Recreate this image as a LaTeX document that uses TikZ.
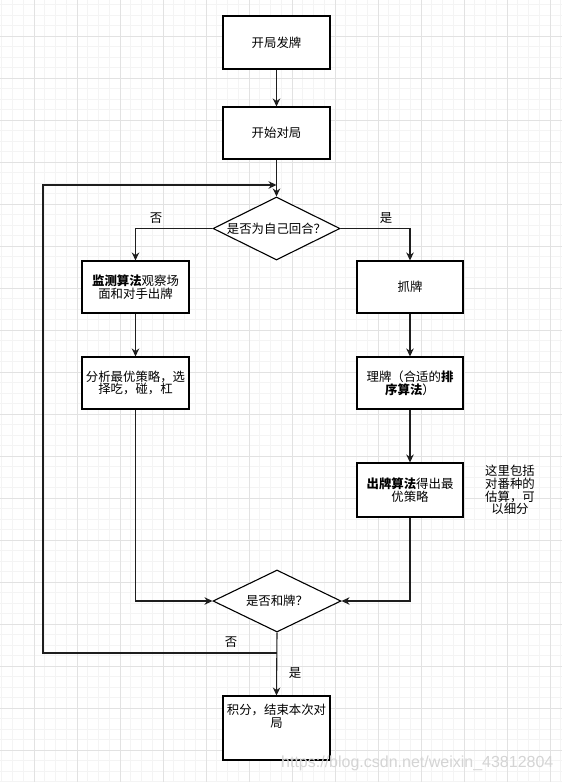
\documentclass[tikz,border=0pt]{standalone}
\usepackage{fontspec}
\setmainfont{Noto Sans CJK SC}
\newfontfamily\urlfont{Liberation Sans}
\usetikzlibrary{shapes.geometric, arrows.meta, positioning}
\definecolor{gridminor}{RGB}{244,244,244}
\definecolor{gridmajor}{RGB}{226,226,226}
\definecolor{flowline}{RGB}{30,30,30}
\definecolor{markgray}{RGB}{212,212,212}

\begin{document}
\begin{tikzpicture}[x=1pt, y=-1pt,
    stepbox/.style={rectangle, draw=black, line width=1.1pt, fill=white, minimum width=107pt, minimum height=52pt, inner sep=1pt, align=center, font=\fontsize{12.4}{12.8}\selectfont},
    decision/.style={diamond, aspect=2, draw=black, line width=1.1pt, fill=white, minimum width=127pt, minimum height=63pt, inner sep=0pt, align=center, font=\fontsize{12.4}{12.8}\selectfont},
    flow/.style={-{Stealth[length=8pt, width=7.5pt]}, line width=1.1pt, flowline},
    lbl/.style={inner sep=0pt, font=\fontsize{12.4}{12.8}\selectfont}]
    \useasboundingbox (0,0) rectangle (562,782);
    \fill[white] (0,0) rectangle (562,782);
    % grid
    \foreach \gx in {1.75,12.5,...,562} \draw[gridminor, line width=0.8pt] (\gx,0) -- (\gx,782);
    \foreach \gy in {4.5,15,...,782} \draw[gridminor, line width=0.8pt] (0,\gy) -- (562,\gy);
    \foreach \gx in {34,77,...,562} \draw[gridmajor, line width=0.8pt] (\gx,0) -- (\gx,782);
    \foreach \gy in {36,78,...,782} \draw[gridmajor, line width=0.8pt] (0,\gy) -- (562,\gy);

    \node[stepbox, minimum height=53pt] (deal) at (276.5,42.5) {开局发牌};
    \node[stepbox] (start) at (276.5,133) {开始对局};
    \node[decision] (turn) at (276.5,228.5) {是否为自己回合？};
    \node[stepbox] (watch) at (135.5,287) {\textbf{监测算法}观察场\\面和对手出牌};
    \node[stepbox] (choose) at (135.5,383) {分析最优策略，选\\择吃，碰，杠};
    \node[stepbox, minimum width=106pt] (draw) at (410,287) {抓牌};
    \node[stepbox, minimum width=106pt] (sort) at (410,383) {理牌（合适的\textbf{排}\\\textbf{序算法}）};
    \node[stepbox, minimum width=106pt, minimum height=54pt] (discard) at (410,490) {\textbf{出牌算法}得出最\\优策略};
    \node[lbl, align=center, font=\fontsize{12.4}{12.6}\selectfont] (note) at (510,490) {这里包括\\对番种的\\估算，可\\以细分};
    \node[decision, minimum width=128pt, minimum height=62pt] (win) at (277,601) {是否和牌？};
    \node[stepbox, minimum height=64pt] (score) at (276.5,728) {积分，结束本次对\\局\\[12pt]};

    \coordinate (split) at (276.5,653);
    \coordinate (loopx) at (43,653);
    \coordinate (loopin) at (276.5,185);

    \draw[flow] (deal) -- (start);
    \draw[flow] (start) -- (turn);
    \draw[flow] (turn.west) -| (watch.north);
    \draw[flow] (turn.east) -| (draw.north);
    \draw[flow] (watch) -- (choose);
    \draw[flow] (draw) -- (sort);
    \draw[flow] (sort) -- (discard);
    \draw[flow] (choose.south) |- (win.west);
    \draw[flow] (discard.south) |- (win.east);
    \draw[flow] (win.south) -- (score.north);
    \draw[flow] (split) -- (loopx) |- (loopin);

    \node[lbl] (no1) at (156,218) {否};
    \node[lbl] (yes1) at (386,218) {是};
    \node[lbl] (no2) at (231,642) {否};
    \node[lbl] (yes2) at (295,673) {是};

    \node[inner sep=0pt, anchor=west, text=markgray, font=\urlfont\fontsize{16}{16}\selectfont] (mark) at (281,763) {https://blog.csdn.net/weixin\_43812804};
\end{tikzpicture}
\end{document}
